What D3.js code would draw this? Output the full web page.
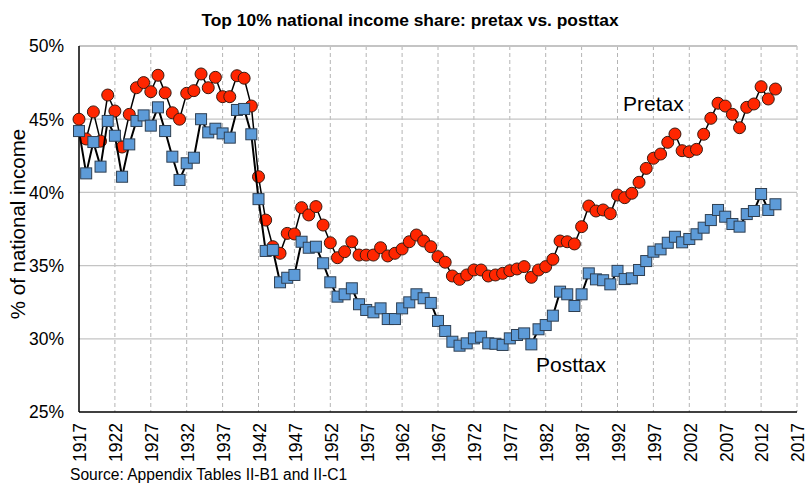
<!DOCTYPE html>
<html>
<head>
<meta charset="utf-8">
<script src="https://cdn.jsdelivr.net/npm/d3@7"></script>
<style>
  body { margin: 0; background: #fff; }
  text { font-family: "Liberation Sans", Arial, sans-serif; fill: #000; }
</style>
</head>
<body>
<svg id="chart" width="808" height="483"></svg>
<script>
// years 1917..2014
var years = d3.range(1917, 2015);

// top 10% share, pretax (red circles)
var pretax = [
  45.0, 43.65, 45.5, 43.5, 46.65, 45.56, 43.1, 45.33, 47.15, 47.5,
  46.88, 48.0, 46.8, 45.44, 45.0, 46.77, 46.95, 48.09, 47.15, 47.86,
  46.54, 46.54, 47.97, 47.8, 45.9, 41.07, 38.11, 36.29, 35.84, 37.2,
  37.16, 38.96, 38.46, 39.03, 37.77, 36.56, 35.54, 35.95, 36.63, 35.72,
  35.72, 35.72, 36.22, 35.66, 35.84, 36.13, 36.63, 37.09, 36.68, 36.29,
  35.61, 35.23, 34.29, 34.06, 34.36, 34.7, 34.7, 34.29, 34.36, 34.47,
  34.65, 34.77, 34.93, 34.2, 34.7, 34.93, 35.43, 36.68, 36.63, 36.48,
  37.66, 39.07, 38.73, 38.8, 38.55, 39.82, 39.64, 39.94, 40.69, 41.64,
  42.33, 42.62, 43.42, 43.99, 42.85, 42.78, 42.94, 43.97, 45.06, 46.09,
  45.9, 45.33, 44.42, 45.81, 46.04, 47.22, 46.38, 47.06
];

// top 10% share, posttax (blue squares)
var posttax = [
  44.19, 41.3, 43.44, 41.76, 44.88, 43.87, 41.07, 43.28, 44.88, 45.26,
  44.56, 45.81, 44.19, 42.44, 40.85, 41.99, 42.37, 45.0, 44.1, 44.35,
  44.03, 43.74, 45.63, 45.7, 43.97, 39.54, 36.0, 36.07, 33.86, 34.17,
  34.36, 36.63, 36.22, 36.29, 35.16, 33.86, 32.88, 33.04, 33.45, 32.36,
  31.97, 31.81, 32.08, 31.35, 31.35, 32.08, 32.49, 33.04, 32.77, 32.45,
  31.22, 30.53, 29.8, 29.53, 29.69, 30.03, 30.14, 29.69, 29.66, 29.58,
  30.03, 30.26, 30.37, 29.62, 30.65, 30.94, 31.58, 33.22, 33.04, 32.24,
  33.04, 34.47, 34.06, 34.0, 33.72, 34.64, 34.08, 34.13, 34.7, 35.31,
  35.95, 36.11, 36.56, 36.97, 36.59, 36.82, 37.14, 37.59, 38.11, 38.8,
  38.34, 37.84, 37.66, 38.52, 38.73, 39.89, 38.8, 39.19
];

var yTicks = [25, 30, 35, 40, 45, 50];
var xTicks = d3.range(1917, 2018, 5);

var svg = d3.select("#chart");
// plot box (window.top is taken, so not "top")
var plotL = 79, plotR = 797, plotT = 46, plotB = 412;

var x = d3.scaleLinear().domain([1917, 2017]).range([plotL, plotR]);
var y = d3.scaleLinear().domain([25, 50]).range([plotB, plotT]);

// title
svg.append("text")
  .attr("x", 410).attr("y", 26)
  .attr("text-anchor", "middle")
  .style("font-size", "17.4px").style("font-weight", "bold")
  .text("Top 10% national income share: pretax vs. posttax");

// vertical dashed grid
svg.append("g").selectAll("line")
  .data(xTicks.slice(1))
  .enter().append("line")
  .attr("x1", function(d) { return x(d); })
  .attr("x2", function(d) { return x(d); })
  .attr("y1", plotT).attr("y2", plotB)
  .attr("stroke", "#b4b4b4").attr("stroke-width", 1)
  .attr("stroke-dasharray", "4,3");

// horizontal grid
svg.append("g").selectAll("line")
  .data(yTicks.slice(1))
  .enter().append("line")
  .attr("x1", plotL).attr("x2", plotR)
  .attr("y1", function(d) { return y(d); })
  .attr("y2", function(d) { return y(d); })
  .attr("stroke", "#c4c4c4")
  .attr("stroke-width", function(d) { return d == 50 ? 2 : 1.2; });

// axes lines
svg.append("line").attr("x1", plotL).attr("x2", plotL).attr("y1", plotT).attr("y2", plotB)
  .attr("stroke", "#000").attr("stroke-width", 1.5);
svg.append("line").attr("x1", plotL).attr("x2", plotR).attr("y1", plotB).attr("y2", plotB)
  .attr("stroke", "#000").attr("stroke-width", 1.5);

// y tick labels
svg.append("g").selectAll("text")
  .data(yTicks)
  .enter().append("text")
  .attr("x", 64)
  .attr("y", function(d) { return y(d); })
  .attr("dy", "0.36em")
  .attr("text-anchor", "end")
  .style("font-size", "17.5px")
  .text(function(d) { return d + "%"; });

// x tick labels (rotated)
svg.append("g").selectAll("text")
  .data(xTicks)
  .enter().append("text")
  .attr("transform", function(d) { return "translate(" + (x(d) + 1) + ",423) rotate(-90)"; })
  .attr("dy", "0.36em")
  .attr("text-anchor", "end")
  .style("font-size", "17.5px")
  .text(function(d) { return d; });

// y axis title
svg.append("text")
  .attr("transform", "translate(18,224) rotate(-90)")
  .attr("dy", "0.36em")
  .attr("text-anchor", "middle")
  .style("font-size", "20.5px")
  .text("% of national income");

// source
svg.append("text")
  .attr("x", 70).attr("y", 480)
  .style("font-size", "15.6px")
  .text("Source: Appendix Tables II-B1 and II-C1");

var line = d3.line()
  .x(function(d, i) { return x(years[i]); })
  .y(function(d) { return y(d); });

// pretax
svg.append("path").datum(pretax)
  .attr("d", line).attr("fill", "none")
  .attr("stroke", "#000").attr("stroke-width", 1.5);
svg.append("g").selectAll("circle")
  .data(pretax)
  .enter().append("circle")
  .attr("cx", function(d, i) { return x(years[i]); })
  .attr("cy", function(d) { return y(d); })
  .attr("r", 6)
  .attr("fill", "#ff2600").attr("stroke", "#3a1a10").attr("stroke-width", 1);

// posttax
svg.append("path").datum(posttax)
  .attr("d", line).attr("fill", "none")
  .attr("stroke", "#000").attr("stroke-width", 2);
svg.append("g").selectAll("rect")
  .data(posttax)
  .enter().append("rect")
  .attr("x", function(d, i) { return x(years[i]) - 5.5; })
  .attr("y", function(d) { return y(d) - 5.5; })
  .attr("width", 11).attr("height", 11)
  .attr("fill", "#5d9bd8").attr("stroke", "#2e3f52").attr("stroke-width", 1);

// series labels
svg.append("text").attr("x", 623).attr("y", 111)
  .style("font-size", "21px").text("Pretax");
svg.append("text").attr("x", 536).attr("y", 372)
  .style("font-size", "21px").text("Posttax");
</script>
</body>
</html>
